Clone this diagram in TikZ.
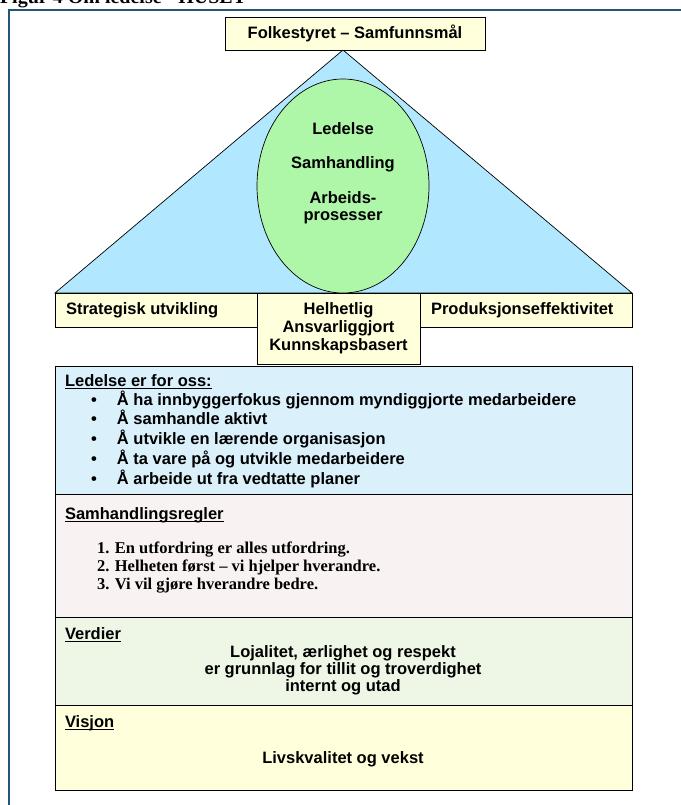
\documentclass[tikz,border=0pt]{standalone}
\usepackage{fontspec}
\setmainfont{Liberation Serif}
\setsansfont{Liberation Sans}
\newcommand\myul[1]{\setbox0\hbox{#1}\rlap{\rule[-2.8pt]{\wd0}{1.1pt}}\box0}
\definecolor{framec}{HTML}{1F5775}
\definecolor{ylw}{HTML}{FFFFDC}
\definecolor{tri}{HTML}{B2E8FF}
\definecolor{ell}{HTML}{AFF7A8}
\definecolor{lblue}{HTML}{DAF1FC}
\definecolor{pinkw}{HTML}{F8F2F2}
\definecolor{lgreen}{HTML}{EEF6E6}
\definecolor{shad}{HTML}{5A5A5A}
\begin{document}
\begin{tikzpicture}[x=1pt,y=-1pt,
  every node/.style={inner sep=0pt, outer sep=0pt},
  sf/.style={font=\sffamily\bfseries\fontsize{16.5}{19.75}\selectfont},
  rm/.style={font=\rmfamily\bfseries\fontsize{16.5}{18}\selectfont},
  boxed/.style={draw=black, line width=0.8pt, rectangle, anchor=north west,
    preaction={fill=shad, transform canvas={shift={(1.3pt,-1.3pt)}}}},
]
\useasboundingbox (0,0) rectangle (680,805);
% page title (cut off at top)
\node[font=\rmfamily\bfseries\fontsize{20}{22}\selectfont, anchor=base west] (ptitle) at (0,4) {Figur 4 Om ledelse - HUSET};
% frame
\draw[framec, line width=2.2pt] (8,10) -- (690,10);
\draw[framec, line width=2.2pt] (9,9) -- (9,815);

% triangle
\coordinate (apex) at (343,50);
\coordinate (tl) at (55,293);
\coordinate (tr) at (632,293);
\filldraw[fill=tri, draw=black, line width=0.7pt] (apex) -- (tl) -- (tr) -- cycle;

% top box
\node[boxed, fill=ylw, minimum width=260pt, minimum height=33pt] (top) at (225,17) {};
\node[sf, anchor=base] (toptxt) at (355,39) {Folkestyret -- Samfunnsmål};

% ellipse
\filldraw[fill=ell, draw=black, line width=0.7pt] (343,186) ellipse [x radius=86, y radius=107];
\node[sf, anchor=base] (e1) at (343,135) {Ledelse};
\node[sf, anchor=base] (e2) at (343,169) {Samhandling};
\node[sf, anchor=base] (e3) at (343,203) {Arbeids-};
\node[sf, anchor=base] (e4) at (343,220) {prosesser};

% bottom row of roof
\node[boxed, fill=ylw, minimum width=203pt, minimum height=34pt] (strat) at (55,293) {};
\node[boxed, fill=ylw, minimum width=212pt, minimum height=34pt] (prod) at (420,293) {};
\node[boxed, fill=ylw, minimum width=163pt, minimum height=71pt] (mid) at (257,293) {};
\node[sf, anchor=base west] (strattxt) at (66,314) {Strategisk utvikling};
\node[sf, anchor=base west] (prodtxt) at (431,314) {Produksjonseffektivitet};
\node[sf, anchor=base] (m1) at (338.5,314) {Helhetlig};
\node[sf, anchor=base] (m2) at (338.5,332) {Ansvarliggjort};
\node[sf, anchor=base] (m3) at (338.5,350) {Kunnskapsbasert};

% stacked boxes
\node[boxed, fill=lblue, minimum width=577pt, minimum height=128pt] (lead) at (55,366) {};
\node[boxed, fill=pinkw, minimum width=577pt, minimum height=123pt] (samh) at (55,494) {};
\node[boxed, fill=lgreen, minimum width=577pt, minimum height=88pt] (verd) at (55,617) {};
\node[boxed, fill=ylw, minimum width=577pt, minimum height=85pt] (visj) at (55,705) {};

% Ledelse box text
\node[sf, anchor=base west] (leadt) at (65,386) {\myul{Ledelse er for oss:}};
\node[sf, anchor=base west, align=left] (bul) at (91,484)
 {\makebox[26pt][l]{•}Å ha innbyggerfokus gjennom myndiggjorte medarbeidere\\
  \makebox[26pt][l]{•}Å samhandle aktivt\\
  \makebox[26pt][l]{•}Å utvikle en lærende organisasjon\\
  \makebox[26pt][l]{•}Å ta vare på og utvikle medarbeidere\\
  \makebox[26pt][l]{•}Å arbeide ut fra vedtatte planer};

% Samhandlingsregler
\node[sf, anchor=base west] (samht) at (65,519) {\myul{Samhandlingsregler}};
\node[rm, anchor=base west, align=left] (rules) at (97,589)
 {1. En utfordring er alles utfordring.\\
  2. Helheten først -- vi hjelper hverandre.\\
  3. Vi vil gjøre hverandre bedre.};

% Verdier
\node[sf, anchor=base west] (verdt) at (65,639) {\myul{Verdier}};
\node[sf, anchor=base, align=center, font=\sffamily\bfseries\fontsize{16.5}{17}\selectfont] (verdtxt) at (343,691)
 {Lojalitet, ærlighet og respekt\\er grunnlag for tillit og troverdighet\\internt og utad};

% Visjon
\node[sf, anchor=base west] (visjt) at (65,727) {\myul{Visjon}};
\node[sf, anchor=base] (visjtxt) at (343,763) {Livskvalitet og vekst};
\end{tikzpicture}
\end{document}
